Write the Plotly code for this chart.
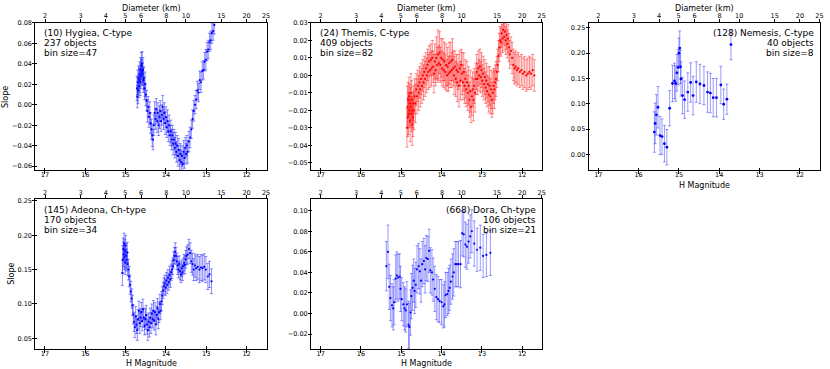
import numpy as np
import plotly.graph_objects as go

W, HGT = 830, 369
FONT = "DejaVu Sans"

# Axis ticks
h_ticks = [17, 16, 15, 14, 13, 12]
diam_ticks = [2, 3, 4, 5, 6, 8, 10, 15, 20, 25]
albedo = 0.07  # used for the diameter scale on top

# -------- (10) Hygiea --------
hyg_h = [14.72, 14.71, 14.70, 14.69, 14.68, 14.67, 14.66, 14.65, 14.64, 14.63,
         14.62, 14.61, 14.60, 14.59, 14.58, 14.57, 14.56, 14.55, 14.53, 14.52,
         14.50, 14.48, 14.46, 14.44, 14.42, 14.40, 14.38, 14.36, 14.34, 14.32,
         14.30, 14.28, 14.26, 14.24, 14.22, 14.20, 14.18, 14.16, 14.14, 14.12,
         14.10, 14.08, 14.06, 14.04, 14.02, 14.00, 13.98, 13.96, 13.94, 13.92,
         13.90, 13.88, 13.86, 13.84, 13.82, 13.80, 13.78, 13.76, 13.74, 13.72,
         13.70, 13.68, 13.66, 13.64, 13.62, 13.60, 13.58, 13.56, 13.54, 13.52,
         13.50, 13.48, 13.46, 13.43, 13.40, 13.37, 13.34, 13.31, 13.28, 13.25,
         13.22, 13.19, 13.16, 13.13, 13.10, 13.07, 13.04, 13.01, 12.98, 12.95,
         12.92, 12.89, 12.86, 12.83, 12.80]
hyg_slope = [0.016, 0.008, 0.022, 0.014, 0.026, 0.018, 0.024, 0.030, 0.022, 0.034,
             0.028, 0.038, 0.032, 0.040, 0.030, 0.034, 0.024, 0.026, 0.016, 0.020,
             0.010, 0.004, -0.006, -0.002, -0.012, -0.008, -0.018, -0.024, -0.030, -0.034,
             -0.020, -0.008, -0.014, -0.004, -0.016, -0.008, -0.020, -0.012, -0.006, -0.016,
             -0.010, -0.002, -0.014, -0.008, -0.018, -0.012, -0.022, -0.016, -0.026, -0.020,
             -0.030, -0.026, -0.034, -0.030, -0.038, -0.034, -0.042, -0.038, -0.046, -0.040,
             -0.050, -0.044, -0.054, -0.048, -0.056, -0.050, -0.058, -0.046, -0.052, -0.042,
             -0.048, -0.040, -0.046, -0.036, -0.032, -0.024, -0.014, -0.006, 0.000, 0.005,
             0.014, 0.012, 0.024, 0.022, 0.033, 0.034, 0.042, 0.044, 0.052, 0.054,
             0.061, 0.063, 0.070, 0.072, 0.078]
hyg_err = [0.012, 0.011, 0.012, 0.013, 0.012, 0.011, 0.012, 0.012, 0.013, 0.012,
           0.012, 0.013, 0.012, 0.012, 0.011, 0.012, 0.012, 0.011, 0.011, 0.012,
           0.011, 0.010, 0.011, 0.010, 0.010, 0.011, 0.010, 0.010, 0.011, 0.010,
           0.010, 0.011, 0.010, 0.010, 0.011, 0.010, 0.010, 0.011, 0.010, 0.010,
           0.010, 0.011, 0.010, 0.010, 0.011, 0.010, 0.010, 0.011, 0.010, 0.010,
           0.010, 0.011, 0.010, 0.010, 0.011, 0.010, 0.010, 0.011, 0.010, 0.010,
           0.010, 0.011, 0.010, 0.010, 0.011, 0.010, 0.010, 0.011, 0.010, 0.010,
           0.010, 0.010, 0.011, 0.010, 0.010, 0.009, 0.009, 0.010, 0.009, 0.009,
           0.009, 0.009, 0.009, 0.010, 0.009, 0.009, 0.009, 0.010, 0.009, 0.009,
           0.009, 0.009, 0.010, 0.009, 0.009]

# -------- (24) Themis --------
th_h = [14.86, 14.85, 14.84, 14.83, 14.82, 14.81, 14.80, 14.79, 14.78, 14.77,
        14.76, 14.75, 14.74, 14.73, 14.72, 14.71, 14.70, 14.69, 14.67, 14.65,
        14.63, 14.61, 14.59, 14.57, 14.55, 14.53, 14.51, 14.49, 14.47, 14.45,
        14.43, 14.41, 14.39, 14.37, 14.35, 14.33, 14.31, 14.29, 14.27, 14.25,
        14.23, 14.21, 14.19, 14.17, 14.15, 14.13, 14.11, 14.09, 14.07, 14.05,
        14.03, 14.01, 13.99, 13.97, 13.95, 13.93, 13.91, 13.89, 13.87, 13.85,
        13.83, 13.81, 13.79, 13.77, 13.75, 13.73, 13.71, 13.69, 13.67, 13.65,
        13.63, 13.61, 13.59, 13.57, 13.55, 13.53, 13.51, 13.49, 13.47, 13.45,
        13.43, 13.41, 13.39, 13.37, 13.35, 13.33, 13.31, 13.29, 13.27, 13.25,
        13.23, 13.21, 13.19, 13.17, 13.15, 13.13, 13.11, 13.09, 13.07, 13.05,
        13.03, 13.01, 12.99, 12.97, 12.95, 12.93, 12.91, 12.89, 12.87, 12.85,
        12.83, 12.81, 12.79, 12.77, 12.75, 12.73, 12.71, 12.69, 12.67, 12.65,
        12.63, 12.61, 12.59, 12.57, 12.55, 12.53, 12.51, 12.49, 12.47, 12.45,
        12.43, 12.41, 12.39, 12.37, 12.35, 12.33, 12.31, 12.28, 12.25, 12.22,
        12.19, 12.16, 12.13, 12.10, 12.06, 12.02, 11.98, 11.94, 11.90, 11.86,
        11.82, 11.78, 11.74, 11.70]
th_slope = [-0.030, -0.018, -0.024, -0.014, -0.022, -0.012, -0.020, -0.016, -0.026, -0.018,
            -0.010, -0.022, -0.014, -0.028, -0.020, -0.024, -0.016, -0.020, -0.012, -0.016,
            -0.008, -0.012, -0.006, -0.010, -0.004, -0.008, -0.002, -0.006, 0.000, -0.004,
            0.002, -0.002, 0.004, 0.000, 0.006, 0.002, 0.008, 0.003, 0.009, 0.004,
            0.010, 0.005, 0.001, 0.008, 0.003, 0.010, 0.006, 0.012, 0.007, 0.013,
            0.006, 0.010, 0.004, 0.009, 0.003, 0.008, 0.002, 0.006, 0.000, 0.005,
            0.001, 0.007, 0.002, 0.008, 0.003, 0.009, 0.004, 0.000, 0.005, -0.002,
            0.003, -0.004, 0.002, -0.006, 0.004, -0.003, 0.006, 0.001, -0.004, 0.002,
            -0.006, -0.002, -0.008, -0.004, -0.010, -0.006, -0.014, -0.009, -0.018, -0.012,
            -0.008, -0.014, -0.006, -0.010, -0.002, 0.002, -0.002, 0.004, 0.000, 0.005,
            -0.001, 0.003, -0.003, 0.001, -0.005, -0.001, -0.007, -0.003, -0.009, -0.005,
            -0.011, -0.006, -0.012, -0.008, -0.014, -0.010, -0.006, -0.008, -0.004, -0.002,
            0.002, 0.006, 0.011, 0.016, 0.020, 0.019, 0.024, 0.021, 0.026, 0.022,
            0.025, 0.020, 0.023, 0.018, 0.021, 0.016, 0.012, 0.014, 0.010, 0.006,
            0.004, 0.005, 0.003, 0.004, 0.002, 0.003, 0.001, 0.002, 0.000, 0.001,
            0.002, 0.001, 0.003, 0.000]
th_err = [0.011, 0.012, 0.011, 0.010, 0.012, 0.011, 0.010, 0.011, 0.012, 0.011,
          0.011, 0.010, 0.011, 0.012, 0.010, 0.011, 0.010, 0.011, 0.010, 0.011,
          0.009, 0.010, 0.009, 0.010, 0.009, 0.010, 0.009, 0.010, 0.009, 0.010,
          0.009, 0.010, 0.009, 0.010, 0.009, 0.010, 0.009, 0.010, 0.009, 0.010,
          0.010, 0.009, 0.011, 0.010, 0.009, 0.012, 0.010, 0.014, 0.010, 0.012,
          0.010, 0.011, 0.010, 0.012, 0.010, 0.011, 0.010, 0.012, 0.009, 0.011,
          0.010, 0.012, 0.009, 0.011, 0.010, 0.012, 0.010, 0.011, 0.009, 0.010,
          0.009, 0.011, 0.010, 0.012, 0.010, 0.011, 0.009, 0.012, 0.010, 0.011,
          0.010, 0.011, 0.010, 0.012, 0.010, 0.011, 0.010, 0.012, 0.009, 0.011,
          0.010, 0.012, 0.010, 0.011, 0.009, 0.010, 0.009, 0.010, 0.009, 0.010,
          0.009, 0.010, 0.009, 0.010, 0.009, 0.010, 0.009, 0.010, 0.009, 0.010,
          0.010, 0.011, 0.010, 0.011, 0.010, 0.012, 0.010, 0.011, 0.010, 0.010,
          0.009, 0.009, 0.009, 0.008, 0.008, 0.008, 0.008, 0.008, 0.008, 0.008,
          0.008, 0.008, 0.008, 0.008, 0.008, 0.008, 0.008, 0.008, 0.009, 0.009,
          0.009, 0.009, 0.009, 0.009, 0.009, 0.009, 0.009, 0.009, 0.009, 0.009,
          0.009, 0.009, 0.009, 0.009]

# -------- (128) Nemesis --------
nem_h = [15.61, 15.59, 15.56, 15.52, 15.47, 15.42, 15.36, 15.30, 15.23, 15.16,
         15.11, 15.08, 15.05, 15.02, 15.00, 14.98, 14.96, 14.95, 14.91, 14.86,
         14.78, 14.71, 14.65, 14.57, 14.48, 14.38, 14.29, 14.22, 14.15, 14.07,
         13.96, 13.89, 13.81, 13.71]
nem_slope = [0.044, 0.061, 0.078, 0.093, 0.037, 0.035, 0.021, 0.014, 0.091, 0.140,
             0.145, 0.140, 0.161, 0.172, 0.200, 0.210, 0.173, 0.149, 0.116, 0.108,
             0.123, 0.142, 0.116, 0.143, 0.139, 0.136, 0.123, 0.121, 0.112, 0.112,
             0.137, 0.099, 0.109, 0.217]
nem_err = [0.040, 0.040, 0.040, 0.041, 0.038, 0.035, 0.036, 0.035, 0.035, 0.036,
           0.035, 0.035, 0.036, 0.035, 0.030, 0.034, 0.033, 0.034, 0.036, 0.037,
           0.038, 0.039, 0.038, 0.040, 0.039, 0.038, 0.040, 0.039, 0.038, 0.038,
           0.037, 0.030, 0.030, 0.030]

# -------- (145) Adeona --------
ad_h = [15.08, 15.07, 15.06, 15.05, 15.04, 15.03, 15.02, 15.01, 15.00, 14.99,
        14.98, 14.96, 14.95, 14.93, 14.91, 14.89, 14.87, 14.85, 14.83, 14.81,
        14.79, 14.77, 14.75, 14.73, 14.71, 14.69, 14.67, 14.65, 14.63, 14.61,
        14.59, 14.57, 14.55, 14.53, 14.51, 14.49, 14.47, 14.45, 14.43, 14.41,
        14.39, 14.37, 14.35, 14.33, 14.31, 14.29, 14.27, 14.25, 14.23, 14.21,
        14.19, 14.17, 14.15, 14.13, 14.11, 14.09, 14.07, 14.05, 14.03, 14.01,
        13.99, 13.97, 13.95, 13.93, 13.91, 13.89, 13.87, 13.85, 13.83, 13.81,
        13.79, 13.77, 13.75, 13.73, 13.71, 13.69, 13.67, 13.65, 13.63, 13.61,
        13.59, 13.57, 13.55, 13.53, 13.51, 13.49, 13.46, 13.43, 13.40, 13.37,
        13.34, 13.31, 13.28, 13.25, 13.21, 13.17, 13.13, 13.09, 13.05, 13.01,
        12.96, 12.92, 12.87]
ad_slope = [0.145, 0.165, 0.180, 0.172, 0.188, 0.168, 0.178, 0.160, 0.185, 0.170,
            0.164, 0.175, 0.158, 0.150, 0.140, 0.128, 0.118, 0.108, 0.098, 0.085,
            0.074, 0.066, 0.082, 0.070, 0.062, 0.078, 0.090, 0.072, 0.080, 0.088,
            0.075, 0.092, 0.080, 0.068, 0.078, 0.084, 0.070, 0.062, 0.074, 0.066,
            0.080, 0.072, 0.086, 0.078, 0.090, 0.076, 0.088, 0.070, 0.084, 0.094,
            0.078, 0.088, 0.100, 0.090, 0.104, 0.112, 0.120, 0.126, 0.130, 0.124,
            0.134, 0.128, 0.138, 0.132, 0.142, 0.136, 0.146, 0.150, 0.155, 0.164,
            0.170, 0.176, 0.170, 0.162, 0.156, 0.150, 0.158, 0.148, 0.143, 0.152,
            0.146, 0.155, 0.160, 0.157, 0.165, 0.170, 0.172, 0.180, 0.174, 0.162,
            0.158, 0.150, 0.156, 0.152, 0.154, 0.150, 0.153, 0.152, 0.154, 0.150,
            0.140, 0.143, 0.133]
ad_err = [0.018, 0.020, 0.016, 0.018, 0.015, 0.018, 0.016, 0.017, 0.015, 0.018,
          0.016, 0.015, 0.017, 0.015, 0.015, 0.014, 0.015, 0.014, 0.015, 0.014,
          0.014, 0.015, 0.014, 0.013, 0.015, 0.014, 0.014, 0.015, 0.013, 0.014,
          0.014, 0.015, 0.014, 0.013, 0.015, 0.014, 0.014, 0.015, 0.013, 0.014,
          0.014, 0.015, 0.014, 0.013, 0.015, 0.014, 0.014, 0.015, 0.013, 0.014,
          0.014, 0.015, 0.014, 0.013, 0.014, 0.013, 0.012, 0.012, 0.012, 0.012,
          0.012, 0.013, 0.012, 0.012, 0.013, 0.012, 0.012, 0.013, 0.012, 0.012,
          0.012, 0.013, 0.012, 0.012, 0.013, 0.012, 0.012, 0.013, 0.012, 0.012,
          0.012, 0.012, 0.012, 0.013, 0.013, 0.013, 0.014, 0.014, 0.015, 0.016,
          0.016, 0.016, 0.017, 0.018, 0.018, 0.019, 0.019, 0.019, 0.019, 0.019,
          0.019, 0.019, 0.018]

# -------- (668) Dora --------
dora_h = [15.37, 15.33, 15.30, 15.27, 15.23, 15.20, 15.18, 15.14, 15.11, 15.08,
          15.04, 15.02, 14.99, 14.95, 14.92, 14.89, 14.86, 14.82, 14.80, 14.77,
          14.75, 14.72, 14.69, 14.67, 14.64, 14.61, 14.57, 14.54, 14.51, 14.48,
          14.44, 14.41, 14.38, 14.34, 14.31, 14.28, 14.24, 14.21, 14.17, 14.13,
          14.09, 14.05, 14.00, 13.96, 13.93, 13.90, 13.86, 13.83, 13.80, 13.77,
          13.73, 13.70, 13.66, 13.62, 13.58, 13.53, 13.49, 13.45, 13.41, 13.37,
          13.33, 13.29, 13.25, 13.19, 13.12, 13.04, 12.97, 12.89, 12.79]
dora_slope = [0.046, 0.060, 0.026, 0.015, 0.008, 0.005, 0.011, 0.034, 0.037, 0.035,
              0.036, 0.024, 0.014, 0.009, 0.005, 0.003, 0.009, -0.011, -0.013, 0.001,
              0.017, 0.025, 0.032, 0.022, 0.028, 0.043, 0.046, 0.041, 0.032, 0.048,
              0.051, 0.043, 0.054, 0.053, 0.061, 0.042, 0.040, 0.033, 0.024, 0.016,
              0.014, 0.012, 0.011, 0.007, 0.009, 0.018, 0.019, 0.022, 0.025, 0.031,
              0.036, 0.040, 0.048, 0.048, 0.048, 0.048, 0.078, 0.077, 0.067, 0.065,
              0.070, 0.075, 0.080, 0.068, 0.062, 0.064, 0.056, 0.057, 0.059]
dora_err = [0.024, 0.026, 0.022, 0.022, 0.021, 0.021, 0.022, 0.023, 0.023, 0.023,
            0.022, 0.022, 0.021, 0.021, 0.021, 0.021, 0.022, 0.023, 0.023, 0.022,
            0.022, 0.022, 0.021, 0.022, 0.022, 0.023, 0.022, 0.022, 0.021, 0.022,
            0.022, 0.023, 0.022, 0.022, 0.021, 0.022, 0.022, 0.021, 0.022, 0.022,
            0.022, 0.021, 0.022, 0.021, 0.022, 0.022, 0.021, 0.022, 0.022, 0.022,
            0.022, 0.023, 0.022, 0.022, 0.022, 0.023, 0.022, 0.022, 0.022, 0.022,
            0.021, 0.021, 0.021, 0.022, 0.021, 0.022, 0.021, 0.021, 0.022]

# label text of each panel
titles = ["(10) Hygiea, C-type", "(24) Themis, C-type", "(128) Nemesis, C-type",
          "(145) Adeona, Ch-type", "(668) Dora, Ch-type"]
counts = ["237 objects", "409 objects", "40 objects", "170 objects", "106 objects"]
bins = ["bin size=47", "bin size=82", "bin size=8", "bin size=34", "bin size=21"]


def px_x(px):
    return px / W


def px_y(py):
    return 1 - py / HGT


# diameter -> H for the top axis
diam_pos = [5 * np.log10(1329 / (d * np.sqrt(albedo))) for d in diam_ticks]

cols = [(35.5, 268), (312.5, 545), (591.5, 824)]
rows = [(19, 168.3), (197.5, 348.5)]

panels = [
    dict(h=hyg_h, s=hyg_slope, e=hyg_err, col=0, row=0, yr=[-0.0642, 0.0801], dt=0.02,
         c="#0000ff", ec="rgba(0,0,255,0.45)", left=True),
    dict(h=th_h, s=th_slope, e=th_err, col=1, row=0, yr=[-0.0544, 0.0301], dt=0.01,
         c="#ff0000", ec="rgba(255,0,0,0.45)", left=True),
    dict(h=nem_h, s=nem_slope, e=nem_err, col=2, row=0, yr=[-0.032, 0.26], dt=0.05,
         c="#0000ff", ec="rgba(0,0,255,0.4)", left=False),
    dict(h=ad_h, s=ad_slope, e=ad_err, col=0, row=1, yr=[0.0349, 0.2522], dt=0.05,
         c="#0000ff", ec="rgba(0,0,255,0.45)", left=True),
    dict(h=dora_h, s=dora_slope, e=dora_err, col=1, row=1, yr=[-0.0342, 0.111], dt=0.02,
         c="#0000ff", ec="rgba(0,0,255,0.4)", left=False),
]

fig = go.Figure()
tickfont = dict(family=FONT, size=6.5, color="black")
xrange = [17.24, 11.5]
annotations = []
plain = dict(showgrid=False, zeroline=False, tickwidth=1, tickcolor="black")


def label(text, x, y, size, xanchor="center", angle=0):
    return dict(text=text, x=px_x(x), y=px_y(y), xref="paper", yref="paper",
                xanchor=xanchor, yanchor="middle", textangle=angle, showarrow=False,
                font=dict(family=FONT, size=size, color="black"))


def dummy(xa, ya):
    # empty trace so an extra overlay axis gets drawn
    return go.Scatter(x=[None], y=[None], xaxis=xa, yaxis=ya,
                      showlegend=False, hoverinfo="skip")


for i, p in enumerate(panels, start=1):
    xn = "" if i == 1 else str(i)
    top = str(i + 5)       # diameter axis
    xin = str(i + 10)      # inner half of the bottom ticks
    yin = str(i + 5)       # inner half of the left ticks
    fig.add_trace(go.Scatter(
        x=p["h"], y=p["s"],
        mode="markers",
        marker=dict(size=2.2 if i != 3 else 2.8, color=p["c"]),
        error_y=dict(type="data", array=p["e"], color=p["ec"], thickness=1, width=1.5),
        xaxis="x" + xn, yaxis="y" + xn,
        showlegend=False
    ))
    fig.add_trace(dummy("x" + top, "y" + xn))
    fig.add_trace(dummy("x" + xin, "y" + xn))
    fig.add_trace(dummy("x" + xn, "y" + yin))

    x0, x1 = cols[p["col"]]
    y0, y1 = rows[p["row"]]
    fig.layout["xaxis" + xn] = dict(
        domain=[px_x(x0), px_x(x1)], anchor="y" + xn, range=xrange,
        tickvals=h_ticks, ticks="outside", ticklen=3,
        showline=True, linecolor="black", linewidth=1, mirror=True,
        tickfont=tickfont, ticklabelstandoff=-5, **plain)
    fig.layout["yaxis" + xn] = dict(
        domain=[px_y(y1), px_y(y0)], anchor="x" + xn, range=p["yr"], dtick=p["dt"],
        tick0=0, tickformat=".2f", ticks="outside", ticklen=2,
        showline=True, linecolor="black", linewidth=1, mirror=True,
        tickfont=tickfont, ticklabelstandoff=-1, **plain)
    fig.layout["xaxis" + top] = dict(
        overlaying="x" + xn, anchor="y" + xn, side="top", range=xrange,
        tickvals=diam_pos, ticktext=[str(d) for d in diam_ticks],
        ticks="outside", ticklen=3, showline=False, tickfont=tickfont,
        ticklabelstandoff=-2, **plain)
    fig.layout["xaxis" + xin] = dict(
        overlaying="x" + xn, anchor="y" + xn, side="bottom", range=xrange,
        tickvals=h_ticks, ticks="inside", ticklen=2.5, showline=False,
        showticklabels=False, **plain)
    fig.layout["yaxis" + yin] = dict(
        overlaying="y" + xn, anchor="x" + xn, side="left", range=p["yr"], dtick=p["dt"],
        tick0=0, ticks="inside", ticklen=1.5, showline=False, showticklabels=False,
        **plain)

    # panel label
    lines = [titles[i - 1], counts[i - 1], bins[i - 1]]
    tx = x0 + 7 if p["left"] else x1 - 4.5
    ty = y0 + 10.5
    for k, txt in enumerate(lines):
        annotations.append(label(txt, tx, ty + 10 * k, 9,
                                 xanchor="left" if p["left"] else "right"))

    xc = (x0 + x1) / 2
    if p["row"] == 0:
        annotations.append(label("Diameter (km)", xc, 5, 8))
    if p["row"] == 1 or p["col"] == 2:
        annotations.append(label("H Magnitude", xc, y1 + 15, 8))

annotations.append(label("Slope", 5.5, 93.5, 8, angle=-90))
annotations.append(label("Slope", 10.7, 273, 8, angle=-90))

fig.update_layout(
    width=W, height=HGT,
    margin=dict(l=0, r=0, t=0, b=0),
    paper_bgcolor="white", plot_bgcolor="white",
    font=dict(family=FONT, color="black"),
    annotations=annotations,
    showlegend=False
)

# drop the browser's default page margin so the figure sits at the window's corner
fig.write_html("out.html", config={"displayModeBar": False},
               post_script="document.body.style.margin='0';")
